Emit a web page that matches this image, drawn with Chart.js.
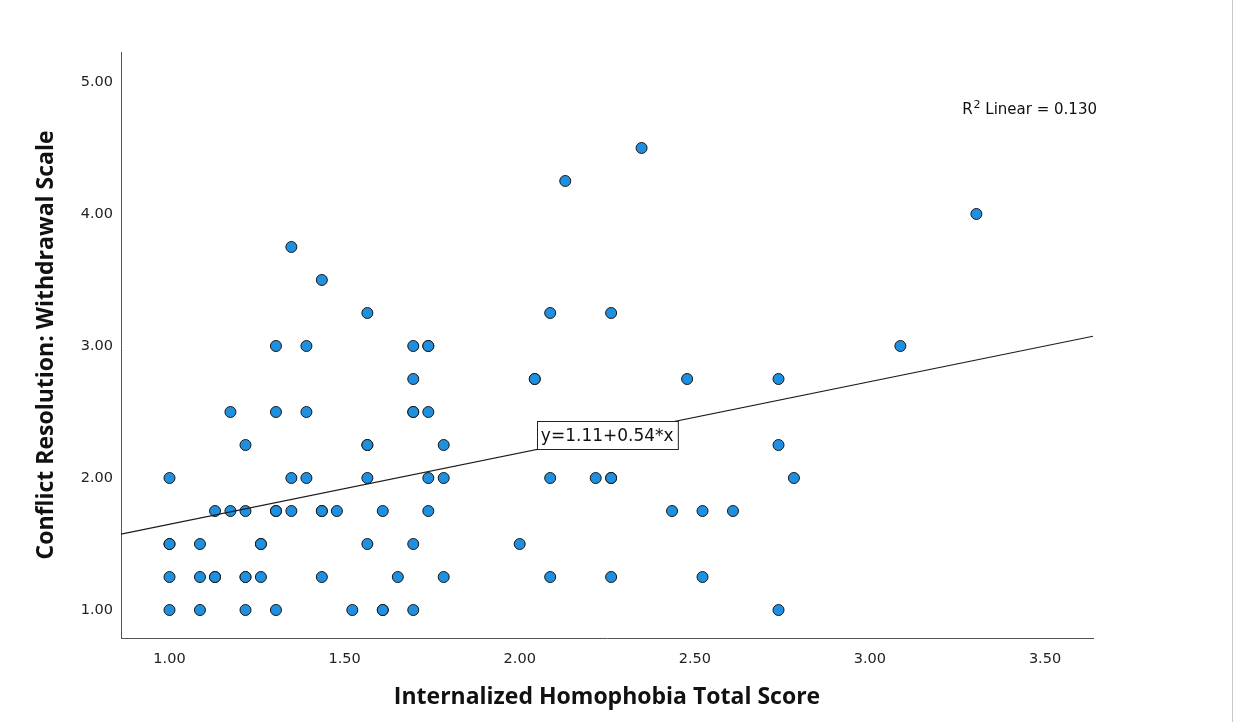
<!DOCTYPE html>
<html>
<head>
<meta charset="utf-8">
<script src="https://cdn.jsdelivr.net/npm/chart.js@4.4.1/dist/chart.umd.min.js"></script>
<style>
  html, body { margin: 0; padding: 0; background: #ffffff; }
  #wrap { width: 1238px; height: 722px; position: relative; }
</style>
</head>
<body>
<div id="wrap"><canvas id="chart" width="1238" height="722"></canvas></div>
<script>
// Internalized homophobia total score (x) and withdrawal scale score (y), one entry per respondent
const homophobiaTotal = [
  1.000, 1.087, 1.217, 1.304, 1.522, 1.609, 1.609, 1.696, 2.739,
  1.000, 1.087, 1.130, 1.130, 1.217, 1.217, 1.261, 1.435, 1.652, 1.783, 2.087, 2.261, 2.522,
  1.000, 1.000, 1.087, 1.261, 1.261, 1.565, 1.696, 2.000,
  1.130, 1.174, 1.217, 1.304, 1.304, 1.348, 1.435, 1.435, 1.478, 1.609, 1.739, 2.435, 2.522, 2.609,
  1.000, 1.348, 1.391, 1.565, 1.739, 1.783, 2.087, 2.217, 2.261, 2.261, 2.783,
  1.217, 1.565, 1.565, 1.783, 2.739,
  1.174, 1.304, 1.391, 1.696, 1.696, 1.739,
  1.696, 2.043, 2.043, 2.478, 2.739,
  1.304, 1.391, 1.696, 1.739, 1.739, 3.087,
  1.565, 2.087, 2.261,
  1.435,
  1.348,
  3.304,
  2.130,
  2.348
];
const withdrawalScale = [
  1.00, 1.00, 1.00, 1.00, 1.00, 1.00, 1.00, 1.00, 1.00,
  1.25, 1.25, 1.25, 1.25, 1.25, 1.25, 1.25, 1.25, 1.25, 1.25, 1.25, 1.25, 1.25,
  1.50, 1.50, 1.50, 1.50, 1.50, 1.50, 1.50, 1.50,
  1.75, 1.75, 1.75, 1.75, 1.75, 1.75, 1.75, 1.75, 1.75, 1.75, 1.75, 1.75, 1.75, 1.75,
  2.00, 2.00, 2.00, 2.00, 2.00, 2.00, 2.00, 2.00, 2.00, 2.00, 2.00,
  2.25, 2.25, 2.25, 2.25, 2.25,
  2.50, 2.50, 2.50, 2.50, 2.50, 2.50,
  2.75, 2.75, 2.75, 2.75, 2.75,
  3.00, 3.00, 3.00, 3.00, 3.00, 3.00,
  3.25, 3.25, 3.25,
  3.50,
  3.75,
  4.00,
  4.25,
  4.50
];

// Linear fit reported on the chart
const fitIntercept = 1.11;
const fitSlope = 0.54;
const fitRSquared = '0.130';
const fitLabelAtX = 2.25;

// Axis ranges and tick labels
const xRange = [0.8615, 3.637];
const yRange = [0.788, 5.227];
const xTickValues = [1.0, 1.5, 2.0, 2.5, 3.0, 3.5];
const yTickValues = [1.0, 2.0, 3.0, 4.0, 5.0];

const xTitle = 'Internalized Homophobia Total Score';
const yTitle = 'Conflict Resolution: Withdrawal Scale';

const points = homophobiaTotal.map((x, i) => ({ x: x, y: withdrawalScale[i] }));
const fitLine = xRange.map(x => ({ x: x, y: fitIntercept + fitSlope * x }));

const tickFont = { family: 'DejaVu Sans', size: 14.5 };
const titleFont = { family: 'Open Sans', size: 23, weight: 'bold' };

const annotations = {
  id: 'annotations',
  beforeDraw(chart) {
    const ctx = chart.ctx;
    ctx.save();
    ctx.fillStyle = '#ffffff';
    ctx.fillRect(0, 0, chart.width, chart.height);
    ctx.strokeStyle = '#c8c8c8';
    ctx.lineWidth = 1;
    ctx.beginPath();
    ctx.moveTo(1232.5, 0);
    ctx.lineTo(1232.5, chart.height);
    ctx.stroke();
    ctx.restore();
  },
  afterDatasetsDraw(chart) {
    const ctx = chart.ctx;
    const xs = chart.scales.x, ys = chart.scales.y;
    ctx.save();

    // equation box sitting on the fit line
    const label = 'y=' + fitIntercept.toFixed(2) + '+' + fitSlope.toFixed(2) + '*x';
    ctx.font = '17px "DejaVu Sans"';
    const w = ctx.measureText(label).width + 8;
    const h = 28;
    const cx = xs.getPixelForValue(fitLabelAtX);
    const cy = ys.getPixelForValue(fitIntercept + fitSlope * fitLabelAtX);
    const bx = Math.round(cx - w / 2) + 0.5, by = Math.round(cy - h / 2) + 0.5;
    ctx.fillStyle = '#ffffff';
    ctx.fillRect(bx, by, w, h);
    ctx.strokeStyle = '#222222';
    ctx.lineWidth = 1;
    ctx.strokeRect(bx, by, w, h);
    ctx.fillStyle = '#111111';
    ctx.textAlign = 'center';
    ctx.textBaseline = 'middle';
    ctx.fillText(label, cx, cy + 1);

    // R-squared note, top right
    const area = chart.chartArea;
    const rest = ' Linear = ' + fitRSquared;
    ctx.textAlign = 'left';
    ctx.textBaseline = 'alphabetic';
    ctx.font = '15px "DejaVu Sans"';
    const restW = ctx.measureText(rest).width;
    const rW = ctx.measureText('R').width;
    ctx.font = '11px "DejaVu Sans"';
    const supW = ctx.measureText('2').width;
    const right = area.right + 4;
    const base = 114;
    const x0 = right - restW - supW - rW - 1;
    ctx.font = '15px "DejaVu Sans"';
    ctx.fillText('R', x0, base);
    ctx.font = '11px "DejaVu Sans"';
    ctx.fillText('2', x0 + rW + 1, base - 6);
    ctx.font = '15px "DejaVu Sans"';
    ctx.fillText(rest, x0 + rW + supW + 1, base);
    ctx.restore();
  }
};

new Chart(document.getElementById('chart'), {
  data: {
    datasets: [
      {
        type: 'line',
        data: fitLine,
        borderColor: '#1a1a1a',
        borderWidth: 1.2,
        pointRadius: 0,
        fill: false,
        order: 1
      },
      {
        type: 'scatter',
        data: points,
        backgroundColor: '#1f8fdf',
        borderColor: '#1a1a1a',
        borderWidth: 1,
        pointRadius: 5.5,
        order: 2
      }
    ]
  },
  options: {
    responsive: false,
    animation: false,
    events: [],
    layout: { padding: { top: 52, right: 145, bottom: 0, left: 0 } },
    plugins: { legend: { display: false }, tooltip: { enabled: false } },
    scales: {
      x: {
        type: 'linear',
        min: xRange[0],
        max: xRange[1],
        afterBuildTicks: s => { s.ticks = xTickValues.map(v => ({ value: v })); },
        afterFit: s => { s.height = 84; },
        grid: { display: false, drawTicks: false },
        border: { display: true, color: '#555555', width: 1 },
        ticks: {
          padding: 13,
          color: '#222222',
          font: tickFont,
          maxRotation: 0,
          autoSkip: false,
          callback: v => Number(v).toFixed(2)
        },
        title: {
          display: true,
          text: xTitle,
          color: '#111111',
          font: titleFont,
          padding: { top: 0, bottom: 11 }
        }
      },
      y: {
        type: 'linear',
        min: yRange[0],
        max: yRange[1],
        afterBuildTicks: s => { s.ticks = yTickValues.map(v => ({ value: v })); },
        afterFit: s => { s.width = 121; },
        grid: { display: false, drawTicks: false },
        border: { display: true, color: '#555555', width: 1 },
        ticks: {
          padding: 8,
          color: '#222222',
          font: tickFont,
          autoSkip: false,
          callback: v => Number(v).toFixed(2)
        },
        title: {
          display: true,
          text: yTitle,
          color: '#111111',
          font: titleFont,
          padding: { top: 33, bottom: 0 }
        }
      }
    }
  },
  plugins: [annotations]
});
</script>
</body>
</html>
